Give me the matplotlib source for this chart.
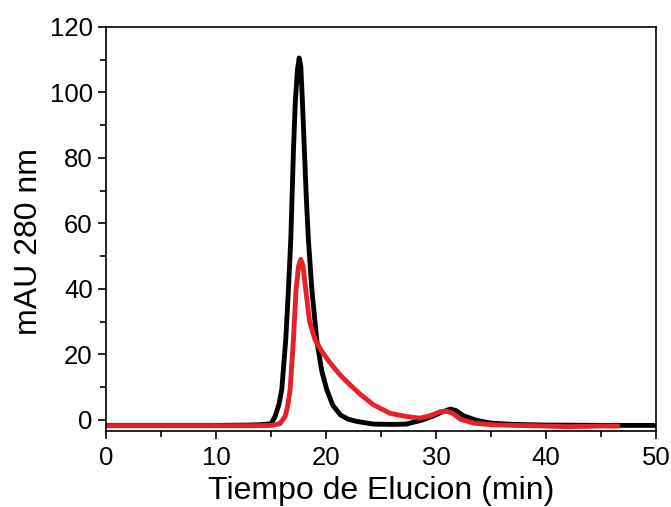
import matplotlib
matplotlib.use('Agg')
from matplotlib import pyplot as plt
from matplotlib.ticker import MultipleLocator

plt.rcParams['font.family'] = ['Liberation Sans', 'DejaVu Sans']

# elution profile, black trace
t_black = [0, 5, 10, 13, 14, 15, 15.36, 15.7, 15.97, 16.33, 16.55, 16.79, 17.03, 17.2,
           17.4, 17.55, 17.7, 17.85, 18.03, 18.2, 18.39, 18.7, 19.15, 19.6, 20.06, 20.6,
           21.3, 22, 22.8, 24.3, 26, 27.3, 28.8, 29.6, 30.4, 31.3, 31.8, 32.5, 33.7,
           35, 37, 40, 45, 50]
mau_black = [-1.7, -1.7, -1.7, -1.6, -1.5, -1.2, 1.0, 4.5, 9.2, 24.4, 38, 55, 82, 97,
             107, 110.5, 108, 97, 82, 68, 55, 40, 24.4, 15, 9.2, 4.5,
             1.5, 0.2, -0.5, -1.3, -1.4, -1.3, 0.0, 1.0, 2.2, 3.3, 2.8, 1.2, -0.2,
             -1.0, -1.4, -1.6, -1.7, -1.7]

# elution profile, red trace
t_red = [0, 5, 10, 14, 15, 15.8, 16.27, 16.5, 16.73, 17.03, 17.27, 17.5, 17.7, 17.9,
         18.15, 18.5, 19.0, 19.5, 20.05, 20.7, 21.3, 22.2, 23.1, 24.3, 25.8, 27.3, 28.5,
         29.5, 30.4, 31.0, 31.5, 32.2, 33.4, 35, 37, 40, 42, 45, 46.5]
mau_red = [-1.8, -1.8, -1.8, -1.8, -1.7, -1.2, 1.0, 4.0, 9.2, 24.4, 39.7, 47, 49, 47,
           39.7, 30, 24.4, 21.5, 18.8, 16.0, 13.6, 10.6, 7.8, 4.6, 2.0, 1.0, 0.5,
           1.3, 2.5, 2.6, 2.0, 0.2, -1.0, -1.5, -1.7, -1.9, -2.1, -1.9, -1.9]

fig = plt.figure(figsize=(6.71, 5.07), dpi=100)
ax = fig.add_axes([0.158, 0.150, 0.820, 0.797])

ax.plot(t_black, mau_black, color='black', lw=3.5, solid_joinstyle='round')
ax.plot(t_red, mau_red, color='#e8202a', lw=3.5, solid_joinstyle='round')

ax.set_xlim(0, 50)
ax.set_ylim(-3.4, 120)
ax.xaxis.set_major_locator(MultipleLocator(10))
ax.xaxis.set_minor_locator(MultipleLocator(5))
ax.yaxis.set_major_locator(MultipleLocator(20))
ax.yaxis.set_minor_locator(MultipleLocator(10))
ax.tick_params(which='both', direction='out', width=1.2, labelsize=18.5)
ax.tick_params(which='major', length=6)
ax.tick_params(which='minor', length=4)
ax.tick_params(axis='x', pad=5)
for s in ax.spines.values():
    s.set_linewidth(1.2)

ax.set_xlabel('Tiempo de Elucion (min)', fontsize=23, labelpad=4)
ax.set_ylabel('mAU 280 nm', fontsize=23)
ax.yaxis.set_label_coords(-0.112, 0.468)

fig.savefig('out.png', dpi=100)
